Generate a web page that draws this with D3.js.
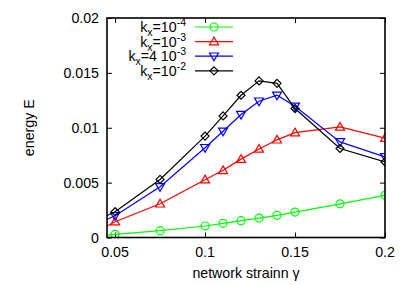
<!DOCTYPE html>
<html>
<head>
<meta charset="utf-8">
<script src="https://cdn.jsdelivr.net/npm/d3@7"></script>
<style>
	body { margin: 0; background: #fff; }
	svg { display: block; }
	text { font-family: "Liberation Sans", Arial, sans-serif; }
</style>
</head>
<body>
<div id="viz"></div>
<script>
// strain values (0.04 point sits left of the axis and gets clipped)
const strain = [0.04, 0.05, 0.075, 0.1, 0.11, 0.12, 0.13, 0.14, 0.15, 0.175, 0.2];

const energyK1e4 = [0.00013, 0.00029, 0.00062, 0.00105, 0.00129, 0.00153, 0.00177, 0.00202, 0.00232, 0.00307, 0.00384];
const energyK1e3 = [0.00055, 0.00144, 0.00307, 0.00527, 0.00612, 0.00714, 0.00807, 0.0089, 0.00956, 0.01007, 0.00905];
const energyK4e3 = [0.00125, 0.00198, 0.00462, 0.00818, 0.00968, 0.0112, 0.01242, 0.01296, 0.01195, 0.00871, 0.00735];
const energyK1e2 = [0.00155, 0.00235, 0.00529, 0.00924, 0.01108, 0.01296, 0.01427, 0.01405, 0.01175, 0.00811, 0.00689];

const xTicks = [0.05, 0.1, 0.15, 0.2];
const yTicks = [0, 0.005, 0.01, 0.015, 0.02];
const yTickLabels = ['0', '0.005', '0.01', '0.015', '0.02'];

const series = [
	{ sub: 'x', pre: '=10', sup: '-4', values: energyK1e4, color: '#00ff00', marker: 'circle' },
	{ sub: 'x', pre: '=10', sup: '-3', values: energyK1e3, color: '#ff0000', marker: 'up' },
	{ sub: 'x', pre: '=4 10', sup: '-3', values: energyK4e3, color: '#0000ff', marker: 'down' },
	{ sub: 'x', pre: '=10', sup: '-2', values: energyK1e2, color: '#000000', marker: 'diamond' }
];

const width = 407, height = 285;
const margin = { top: 18, right: 22, bottom: 48, left: 107 };

const svg = d3.select('#viz').append('svg')
	.attr('width', width)
	.attr('height', height);

let x = d3.scaleLinear()
	.domain([0.0455, 0.2])
	.range([margin.left, width - margin.right]);

let y = d3.scaleLinear()
	.domain([0, 0.02])
	.range([height - margin.bottom + 0.5, margin.top]);

svg.append('clipPath')
	.attr('id', 'plotclip')
	.append('rect')
	.attr('x', margin.left)
	.attr('y', margin.top)
	.attr('width', width - margin.left - margin.right)
	.attr('height', height - margin.top - margin.bottom);

const fontSize = 14.2;

// axes with inward ticks, mirrored on the other sides
svg.append('g')
	.attr('transform', `translate(0,${y(0)})`)
	.call(d3.axisTop(x).tickValues(xTicks).tickSize(5).tickFormat(''))
	.call(g => g.select('.domain').remove());

svg.append('g')
	.attr('transform', `translate(0,${y(0.02)})`)
	.call(d3.axisBottom(x).tickValues(xTicks).tickSize(5).tickFormat(''))
	.call(g => g.select('.domain').remove());

svg.append('g')
	.attr('transform', `translate(${x.range()[0]},0)`)
	.call(d3.axisRight(y).tickValues(yTicks).tickSize(5).tickFormat(''))
	.call(g => g.select('.domain').remove());

svg.append('g')
	.attr('transform', `translate(${x.range()[1]},0)`)
	.call(d3.axisLeft(y).tickValues(yTicks).tickSize(5).tickFormat(''))
	.call(g => g.select('.domain').remove());

svg.selectAll('.tick line').attr('stroke', '#000').attr('stroke-width', 1);

// tick labels
svg.append('g').selectAll('text')
	.data(xTicks)
	.join('text')
	.attr('x', d => x(d))
	.attr('y', 257)
	.attr('text-anchor', 'middle')
	.attr('font-size', fontSize)
	.text(d => d);

svg.append('g').selectAll('text')
	.data(yTicks)
	.join('text')
	.attr('x', 99)
	.attr('y', d => y(d) + 5)
	.attr('text-anchor', 'end')
	.attr('font-size', fontSize)
	.text((d, i) => yTickLabels[i]);

// axis titles
svg.append('text')
	.attr('x', (x.range()[0] + x.range()[1]) / 2)
	.attr('y', 278)
	.attr('text-anchor', 'middle')
	.attr('font-size', fontSize)
	.text('network strainn γ');

svg.append('text')
	.attr('transform', `translate(34,${(y(0) + y(0.02)) / 2}) rotate(-90)`)
	.attr('text-anchor', 'middle')
	.attr('font-size', fontSize)
	.text('energy E');

const markerPath = {
	circle: d3.symbol(d3.symbolCircle, 50)(),
	up: 'M0,-4.5L4.5,3.2L-4.5,3.2Z',
	down: 'M0,4.5L4.5,-3.2L-4.5,-3.2Z',
	diamond: 'M0,-4L4,0L0,4L-4,0Z'
};

let line = d3.line()
	.x((d, i) => x(strain[i]))
	.y(d => y(d));

const plot = svg.append('g').attr('clip-path', 'url(#plotclip)');

for (let s of series) {
	plot.append('path')
		.datum(s.values)
		.attr('fill', 'none')
		.attr('stroke', s.color)
		.attr('stroke-width', 1.2)
		.attr('d', line);

	plot.append('g').selectAll('path')
		.data(s.values)
		.join('path')
		.attr('transform', (d, i) => `translate(${x(strain[i])},${y(d)})`)
		.attr('d', markerPath[s.marker])
		.attr('fill', 'none')
		.attr('stroke', s.color)
		.attr('stroke-width', 1.2);
}

// frame
svg.append('rect')
	.attr('x', x.range()[0])
	.attr('y', y(0.02))
	.attr('width', x.range()[1] - x.range()[0])
	.attr('height', y(0) - y(0.02))
	.attr('fill', 'none')
	.attr('stroke', '#000')
	.attr('stroke-width', 1.6);

// legend
const legend = svg.append('g');
series.forEach((s, i) => {
	let ly = 27 + i * 14.6;

	let t = legend.append('text')
		.attr('x', 186)
		.attr('y', ly + 5)
		.attr('text-anchor', 'end')
		.attr('font-size', fontSize);
	t.append('tspan').text('k');
	t.append('tspan').attr('dy', 4).attr('font-size', 10.5).text(s.sub);
	t.append('tspan').attr('dy', -4).text(s.pre);
	t.append('tspan').attr('dy', -6).attr('font-size', 10.5).text(s.sup);

	legend.append('line')
		.attr('x1', 195)
		.attr('x2', 233)
		.attr('y1', ly)
		.attr('y2', ly)
		.attr('stroke', s.color)
		.attr('stroke-width', 1.2);

	legend.append('path')
		.attr('transform', `translate(214,${ly})`)
		.attr('d', markerPath[s.marker])
		.attr('fill', 'none')
		.attr('stroke', s.color)
		.attr('stroke-width', 1.2);
});
</script>
</body>
</html>
